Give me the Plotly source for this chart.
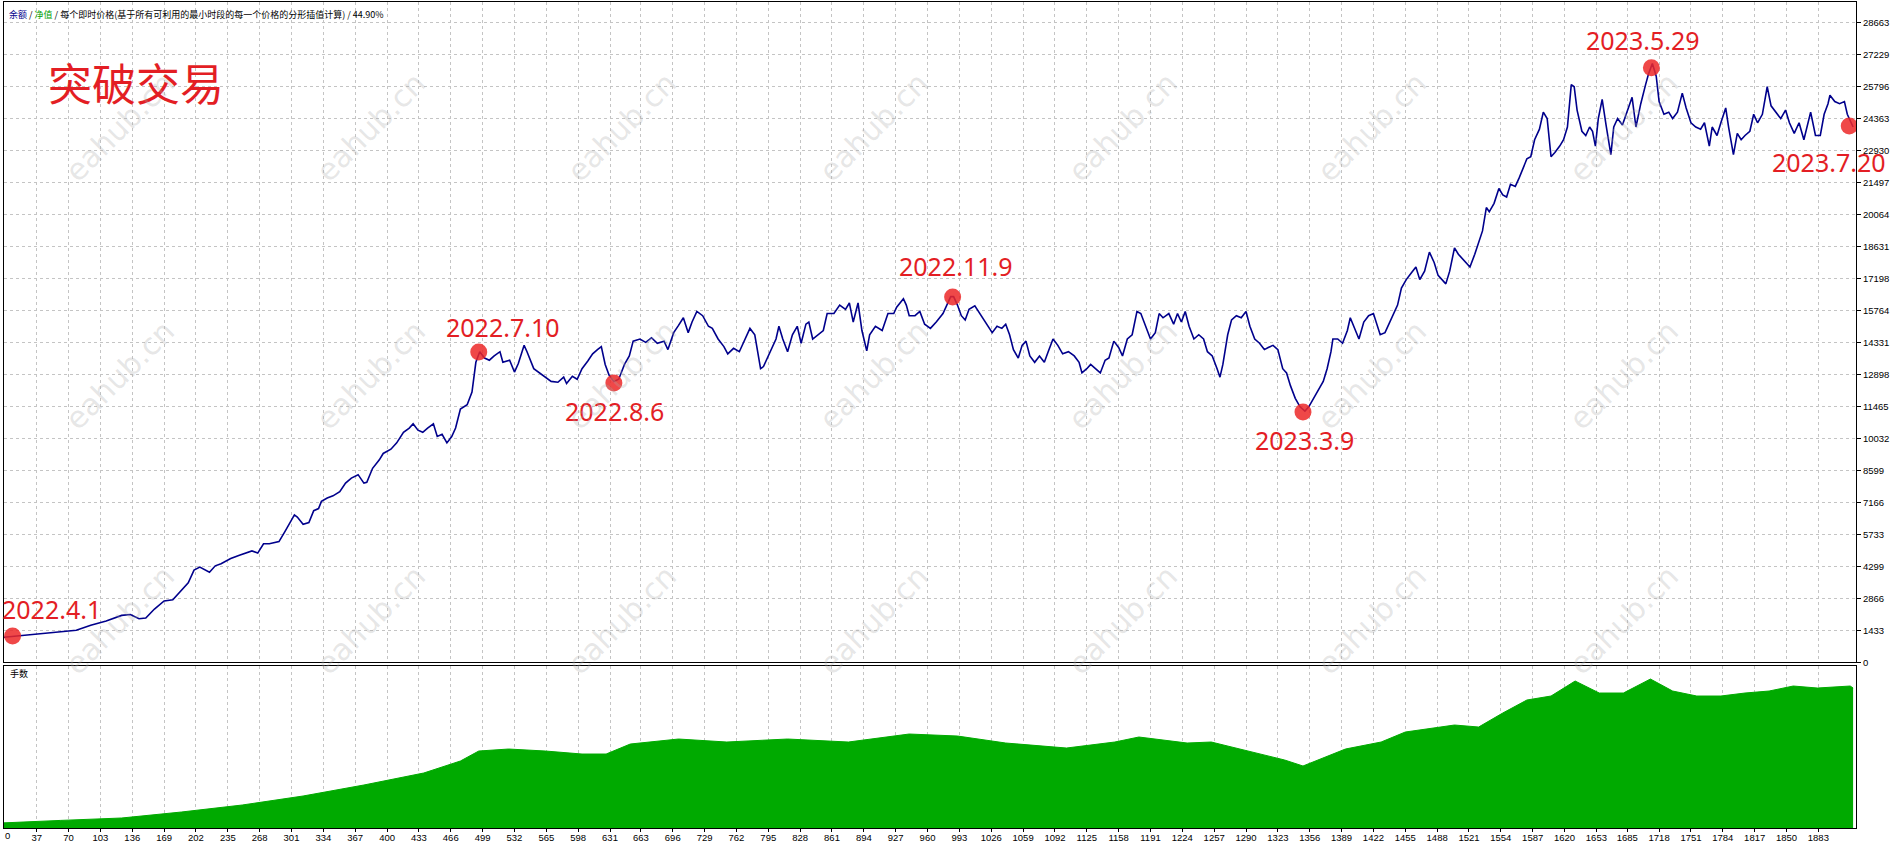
import plotly.graph_objects as go

# ---------------- data ----------------
eq_trade = [0, 5, 30, 62, 78, 93, 109, 125, 134, 143, 150, 159, 169, 178, 184, 194, 200, 206, 216, 222,
            228, 238, 247, 253, 260, 266, 272, 278, 288, 294, 304, 307, 313, 319, 324, 329, 332, 338, 344, 351,
            357, 363, 370, 376, 379, 385, 392, 396, 404, 410, 417, 423, 427, 432, 437, 442, 448, 452, 457, 462,
            467, 471, 476, 483, 488, 492, 496, 501, 506, 511, 517, 520, 527, 532, 536, 542, 545, 552, 558, 564,
            570, 577, 583, 586, 592, 597, 602, 608, 613, 618, 622, 626, 630, 635, 640, 646, 651, 655, 662, 668,
            674, 680, 687, 691, 697, 702, 707, 712, 716, 721, 727, 733, 737, 743, 749, 753, 759, 765, 771, 776,
            781, 787, 790, 797, 803, 806, 810, 815, 820, 825, 829, 834, 837, 841, 847, 852, 856, 863, 869, 875,
            879, 883, 888, 892, 897, 900, 906, 913, 919, 925, 928, 935, 938, 941, 947, 952, 957, 963, 969, 976,
            984, 987, 991, 995, 999, 1003, 1009, 1014, 1018, 1022, 1027, 1032, 1037, 1041, 1045, 1049, 1054, 1058, 1062, 1066,
            1071, 1076, 1081, 1085, 1090, 1095, 1100, 1106, 1112, 1117, 1120, 1125, 1129, 1134, 1139, 1144, 1148, 1153, 1158, 1162,
            1167, 1172, 1177, 1181, 1186, 1191, 1196, 1200, 1204, 1210, 1215, 1219, 1223, 1227, 1231, 1236, 1241, 1246, 1250, 1255,
            1260, 1263, 1266, 1271, 1275, 1280, 1285, 1290, 1294, 1299, 1304, 1309, 1313, 1318, 1323, 1328, 1332, 1336, 1341, 1346,
            1351, 1355, 1360, 1365, 1370, 1374, 1378, 1380, 1385, 1390, 1395, 1398, 1403, 1407, 1412, 1417, 1422, 1426, 1429, 1434,
            1439, 1443, 1447, 1451, 1456, 1461, 1466, 1470, 1475, 1480, 1485, 1489, 1493, 1497, 1501, 1506, 1510, 1514, 1519, 1522,
            1527, 1531, 1535, 1539, 1542, 1547, 1552, 1556, 1560, 1564, 1569, 1573, 1577, 1581, 1585, 1589, 1594, 1598, 1602, 1606,
            1610, 1615, 1619, 1623, 1627, 1630, 1633, 1638, 1642, 1646, 1649, 1652, 1655, 1659, 1663, 1668, 1671, 1675, 1680, 1685,
            1690, 1694, 1699, 1704, 1707, 1711, 1715, 1718, 1723, 1728, 1732, 1737, 1742, 1746, 1751, 1756, 1761, 1765, 1770, 1773,
            1778, 1782, 1787, 1790, 1795, 1799, 1803, 1807, 1812, 1816, 1820, 1825, 1830, 1834, 1839, 1844, 1849, 1853, 1858, 1863,
            1868, 1872, 1875, 1880, 1885, 1889, 1893, 1895, 1900, 1905, 1910, 1913, 1916, 1919]
eq_value = [1120, 1140, 1254, 1387, 1444, 1672, 1862, 2109, 2147, 1957, 1995, 2394, 2755, 2812, 3097, 3572, 4142, 4275, 4047, 4332,
            4427, 4655, 4807, 4902, 4997, 4902, 5320, 5320, 5415, 5852, 6612, 6517, 6194, 6270, 6802, 6897, 7220, 7372, 7467, 7657,
            8037, 8265, 8417, 8037, 8075, 8702, 9082, 9367, 9557, 9842, 10317, 10507, 10697, 10412, 10317, 10507, 10697, 10127, 10222, 9842,
            10127, 10507, 11362, 11552, 12122, 13452, 13927, 13642, 13547, 13737, 13927, 13452, 13547, 13015, 13395, 14212, 13927, 13167, 12977, 12787,
            12597, 12559, 12787, 12502, 12825, 12692, 13167, 13509, 13832, 14022, 14155, 13357, 12882, 12597, 12692, 13357, 13737, 14402, 14497, 14345,
            14554, 14307, 14402, 14022, 14782, 15105, 15447, 14782, 15257, 15732, 15542, 15067, 14972, 14497, 14155, 13832, 14079, 13927, 14497, 14972,
            14687, 13167, 13262, 13927, 14497, 15067, 14497, 13927, 14687, 15067, 14307, 15162, 15257, 14497, 14687, 14877, 15637, 15637, 16017, 15827,
            16112, 15257, 16112, 14877, 13965, 14687, 15067, 14877, 15637, 15637, 15922, 16302, 16017, 15542, 15542, 15732, 15162, 14972, 15257, 15637,
            16397, 16397, 16017, 15542, 15352, 15827, 15979, 15637, 15352, 15067, 14782, 15067, 14972, 15162, 14687, 14022, 13642, 14212, 14402, 13737,
            13452, 13737, 13452, 13927, 14497, 14212, 13832, 13927, 13737, 13452, 12977, 13167, 13357, 13167, 12977, 13547, 13642, 14402, 14117, 13737,
            14497, 14687, 15732, 15637, 15067, 14497, 14782, 15637, 15447, 15637, 15162, 15637, 15257, 15732, 15067, 14497, 14687, 14497, 13927, 13737,
            13167, 12787, 13357, 14687, 15352, 15542, 15447, 15732, 15067, 14497, 14307, 14022, 14117, 14212, 14022, 13167, 12977, 12407, 11837, 11457,
            11267, 11457, 11837, 12217, 12597, 13167, 13927, 14497, 14497, 14307, 14877, 15447, 14877, 14497, 15257, 15542, 15637, 15067, 14687, 14782,
            15257, 15637, 16017, 16777, 17157, 17442, 17727, 17157, 17537, 18392, 17917, 17347, 17157, 16967, 17537, 18582, 18297, 18107, 17917, 17727,
            18297, 18867, 19342, 20387, 20197, 20577, 21242, 20957, 20862, 21432, 21337, 21717, 22192, 22572, 22667, 23427, 23902, 24662, 24377, 22667,
            22857, 23142, 23427, 23997, 25897, 25802, 24757, 23807, 23617, 23997, 23807, 23142, 24377, 25232, 24092, 22762, 23997, 24377, 24092, 24662,
            25327, 23997, 25042, 25897, 26372, 26847, 26277, 25137, 24567, 24662, 24377, 24662, 25517, 24852, 24187, 23997, 23902, 24187, 23142, 23997,
            23617, 24187, 24852, 23997, 22762, 23712, 23427, 23617, 23807, 24567, 24187, 24567, 25802, 24947, 24662, 24377, 24757, 24187, 23712, 24187,
            23427, 24187, 24662, 23617, 23617, 24567, 25042, 25422, 25137, 25042, 25137, 24567, 24282, 23997]

lot_trade = [0, 4, 62, 125, 187, 250, 313, 376, 438, 476, 495, 526, 564, 602, 627, 652, 702, 752, 815, 878,
             941, 991, 1041, 1104, 1154, 1179, 1229, 1254, 1292, 1330, 1349, 1368, 1393, 1430, 1455, 1506, 1531, 1556, 1581, 1606,
             1631, 1656, 1681, 1709, 1732, 1757, 1782, 1807, 1832, 1857, 1882, 1916, 1919]
lot_value = [0.05, 0.052, 0.076, 0.10, 0.16, 0.23, 0.32, 0.43, 0.55, 0.67, 0.77, 0.79, 0.77, 0.74, 0.74, 0.84, 0.89, 0.86, 0.89, 0.86,
             0.94, 0.92, 0.85, 0.80, 0.86, 0.91, 0.85, 0.86, 0.77, 0.68, 0.62, 0.69, 0.79, 0.86, 0.96, 1.03, 1.01, 1.15, 1.28, 1.32,
             1.47, 1.35, 1.35, 1.49, 1.37, 1.32, 1.32, 1.35, 1.37, 1.42, 1.40, 1.42, 1.40]

mark_trade = [12, 495, 635, 986, 1349, 1710, 1915]
mark_value = [1190, 13910, 12530, 16380, 11230, 26650, 24040]
mark_label = ["2022.4.1", "2022.7.10", "2022.8.6", "2022.11.9", "2023.3.9", "2023.5.29", "2023.7.20"]

x_tick_labels = ["37", "70", "103", "136", "169", "202", "235", "268", "301", "334", "367", "400", "433", "466",
                 "499", "532", "565", "598", "631", "663", "696", "729", "762", "795", "828", "861", "894", "927",
                 "960", "993", "1026", "1059", "1092", "1125", "1158", "1191", "1224", "1257", "1290", "1323", "1356",
                 "1389", "1422", "1455", "1488", "1521", "1554", "1587", "1620", "1653", "1685", "1718", "1751", "1784",
                 "1817", "1850", "1883"]
y_tick_labels = ["0", "1433", "2866", "4299", "5733", "7166", "8599", "10032", "11465", "12898", "14331",
                 "15764", "17198", "18631", "20064", "21497", "22930", "24363", "25796", "27229", "28663"]

header_parts = [("余额", "#00008C"), (" / ", "#000000"), ("净值", "#00A000"),
                (" / 每个即时价格(基于所有可利用的最小时段的每一个价格的分形插值计算) / 44.90%", "#000000")]
title_text = "突破交易"
lower_label = "手数"
watermark = "eahub.cn"

# ---------------- layout helpers ----------------
W, H = 1900, 845
ML, MR, MT, MB = 4, 44, 2, 17
PW, PH = W - ML - MR, H - MT - MB


def px(xp, yp):
    return (xp - ML) / PW, (H - MB - yp) / PH


RED = "#E31E24"
GRID = "#c4c4c4"
TICKFONT = dict(family="Liberation Sans, Arial, sans-serif", size=9.5, color="black")

fig = go.Figure()

fig.add_trace(go.Scatter(x=lot_trade, y=lot_value, xaxis="x2", yaxis="y2", mode="lines",
                         line=dict(color="#00AA00", width=1), fill="tozeroy", fillcolor="#00AA00",
                         hoverinfo="skip", showlegend=False))
fig.add_trace(go.Scatter(x=eq_trade, y=eq_value, mode="lines",
                         line=dict(color="#00008C", width=1.6), showlegend=False))
fig.add_trace(go.Scatter(x=mark_trade, y=mark_value, mode="markers",
                         marker=dict(size=17, color="rgba(236,40,40,0.85)", line=dict(width=0)),
                         showlegend=False))

xticks = [int(s) for s in x_tick_labels]
yticks = [int(s) for s in y_tick_labels]

axis_common = dict(showline=True, linecolor="black", linewidth=1, mirror=True, zeroline=False)
DASH = "3px,3px"

fig.update_layout(
    width=W, height=H,
    margin=dict(l=ML, r=MR, t=MT, b=MB),
    paper_bgcolor="white", plot_bgcolor="white",
    xaxis=dict(domain=[0, 1], range=[3.1, 1922], anchor="y", tickvals=xticks, showticklabels=False,
               showgrid=True, gridcolor=GRID, griddash=DASH, gridwidth=1, ticks="", **axis_common),
    yaxis=dict(domain=[0.2004, 1], range=[0, 29600], side="right", tickvals=yticks, ticktext=y_tick_labels,
               showgrid=True, gridcolor=GRID, griddash=DASH, gridwidth=1, ticks="outside", ticklen=4,
               tickcolor="black", tickfont=TICKFONT, **axis_common),
    xaxis2=dict(domain=[0, 1], range=[3.1, 1922], anchor="y2", matches="x", tickvals=xticks,
                ticktext=x_tick_labels, showgrid=True, gridcolor=GRID, griddash=DASH, gridwidth=1,
                ticks="outside", ticklen=3, tickcolor="black", tickfont=TICKFONT, ticklabelstandoff=-2,
                **axis_common),
    yaxis2=dict(domain=[0, 0.1967], range=[0, 1.625], side="right", showgrid=False, showticklabels=False,
                ticks="", anchor="x2", **axis_common),
)

ann = []
# header
hx, hy = px(7, 14)
htxt = "".join(f"<span style='color:{c}'>{t}</span>" for t, c in header_parts)
ann.append(dict(text=htxt, xref="paper", yref="paper", x=hx, y=hy, xanchor="left", yanchor="middle",
                showarrow=False, font=dict(family="Noto Sans CJK SC", size=9)))
# title
tx, ty = px(136, 82)
ann.append(dict(text=title_text, xref="paper", yref="paper", x=tx, y=ty, xanchor="center", yanchor="middle",
                showarrow=False, font=dict(family="Noto Sans CJK SC", size=44, color=RED)))
# lower panel label
lx, ly = px(8, 673)
ann.append(dict(text=lower_label, xref="paper", yref="paper", x=lx, y=ly, xanchor="left", yanchor="middle",
                showarrow=False, font=dict(family="Noto Sans CJK SC", size=9, color="black")))
# leftmost x label "0"
zx, zy = px(7, 835)
ann.append(dict(text="0", xref="paper", yref="paper", x=zx, y=zy, xanchor="center", yanchor="middle",
                showarrow=False, font=TICKFONT))
# marker labels
offsets = [(39, 27), (24, 25), (1, -28), (3, 31), (2, -28), (-8, 28), (-20, -36)]
for t, v, lab, (dx, dy) in zip(mark_trade, mark_value, mark_label, offsets):
    ann.append(dict(text=lab, x=t, y=v, xref="x", yref="y", xshift=dx, yshift=dy, showarrow=False,
                    xanchor="center", yanchor="middle",
                    font=dict(family="Noto Sans", size=25, color=RED)))
# watermarks
for yy in [127, 375, 620]:
    for xx in [119, 370, 621, 873, 1122, 1371, 1623]:
        wx, wy = px(xx, yy)
        ann.append(dict(text=watermark, xref="paper", yref="paper", x=wx, y=wy, xanchor="center",
                        yanchor="middle", showarrow=False, textangle=-45,
                        font=dict(family="DejaVu Sans", size=30, color="rgba(170,170,170,0.30)")))

fig.update_layout(annotations=ann)
fig.write_html("out.html", config={"displayModeBar": False},
               post_script="document.body.style.margin='0px';document.body.style.padding='0px';"
                           "document.documentElement.style.overflow='hidden';")
